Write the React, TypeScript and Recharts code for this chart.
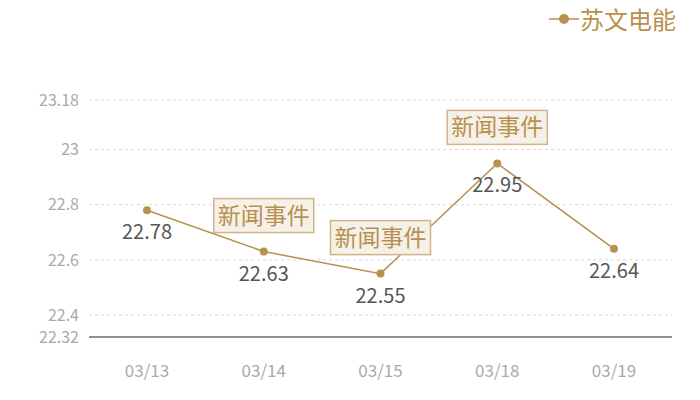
import React from 'react';
import { LineChart, Line, XAxis, YAxis, CartesianGrid, LabelList } from 'recharts';

const categories = ['03/13', '03/14', '03/15', '03/18', '03/19'];
const prices = [22.78, 22.63, 22.55, 22.95, 22.64];
const events = [false, true, true, true, false];
const yTicks = [22.32, 22.4, 22.6, 22.8, 23, 23.18];
const gridValues = [22.4, 22.6, 22.8, 23, 23.18];
const seriesName = '苏文电能';
const eventText = '新闻事件';

const data = categories.map((c, i) => ({ date: c, price: prices[i], event: events[i] }));

const GOLD = '#b8914f';
const FONT = '"Noto Sans CJK SC", "Noto Sans", sans-serif';

const ValueLabel = (props: any) => {
  const { x, y, value } = props;
  return (
    <text x={x} y={y + 29} textAnchor="middle" fill="#555" fontSize={20} fontFamily={FONT}>
      {Number(value).toFixed(2)}
    </text>
  );
};

const EventLabel = (props: any) => {
  const { x, y, index } = props;
  if (!events[index]) return null;
  const w = 100;
  const h = 34;
  const bottom = y - 19;
  return (
    <g>
      <rect x={x - w / 2} y={bottom - h} width={w} height={h} fill="#f5f0e8" stroke="#d2b487" strokeWidth={1.5} />
      <text x={x} y={bottom - h / 2 + 8} textAnchor="middle" fill={GOLD} fontSize={23} fontFamily={FONT}>
        {eventText}
      </text>
    </g>
  );
};

export default function App() {
  return (
    <div style={{ position: 'absolute', left: 0, top: 0, width: 700, height: 400, background: '#fff' }}>
      <div style={{ position: 'absolute', right: 24, top: 4, display: 'flex', alignItems: 'center', fontFamily: FONT, zIndex: 2 }}>
        <svg width={30} height={20}>
          <line x1={0} y1={10} x2={30} y2={10} stroke={GOLD} strokeWidth={1.5} />
          <circle cx={15} cy={10} r={5} fill={GOLD} />
        </svg>
        <span style={{ color: GOLD, fontSize: 24, marginLeft: 1, lineHeight: '30px' }}>{seriesName}</span>
      </div>
      <LineChart width={700} height={400} data={data} margin={{ top: 100, right: 28, bottom: 33, left: 0 }}>
        <CartesianGrid vertical={false} stroke="#d9d9d9" strokeDasharray="3 3" horizontalValues={gridValues} />
        <XAxis
          dataKey="date"
          axisLine={{ stroke: '#222' }}
          tickLine={false}
          height={30}
          padding={{ left: 58, right: 58 }}
          tick={{ fill: '#aaa', fontSize: 17, fontFamily: FONT }}
          dy={20}
          interval={0}
        />
        <YAxis
          domain={[22.32, 23.18]}
          ticks={yTicks}
          width={89}
          axisLine={false}
          tickLine={false}
          tick={{ fill: '#aaa', fontSize: 16, fontFamily: FONT }}
          dx={-2}
          interval={0}
        />
        <Line
          type="linear"
          dataKey="price"
          name={seriesName}
          stroke={GOLD}
          strokeWidth={1.5}
          dot={{ r: 4, fill: GOLD, stroke: GOLD, strokeWidth: 0 }}
          activeDot={false}
          isAnimationActive={false}
        >
          <LabelList dataKey="price" content={<ValueLabel />} />
          <LabelList dataKey="price" content={<EventLabel />} />
        </Line>
      </LineChart>
    </div>
  );
}
